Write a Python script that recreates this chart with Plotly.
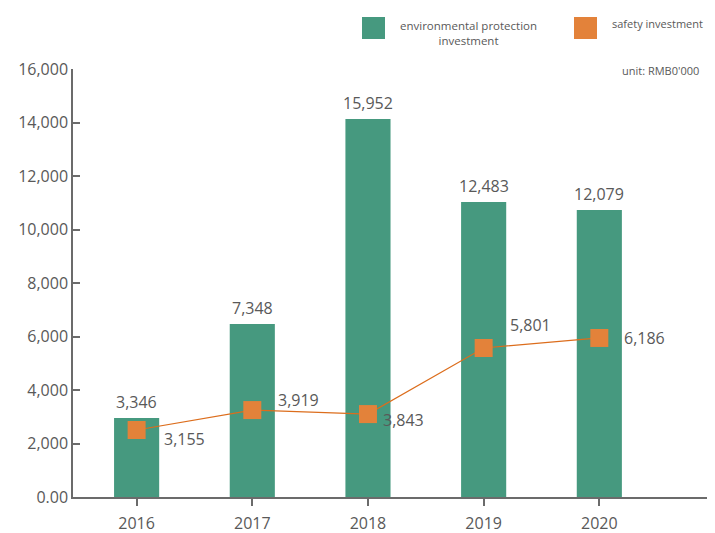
"""
Environmental protection vs safety investment, 2016-2020
"""

import plotly.graph_objects as go

# data
years = ["2016", "2017", "2018", "2019", "2020"]
env_heights = [2950, 6465, 14130, 11030, 10730]  # drawn bar heights
env_labels = ["3,346", "7,348", "15,952", "12,483", "12,079"]
safety_heights = [2505, 3250, 3100, 5570, 5945]  # drawn marker heights
safety_labels = ["3,155", "3,919", "3,843", "5,801", "6,186"]
ytick_vals = [0, 2000, 4000, 6000, 8000, 10000, 12000, 14000, 16000]
ytick_text = ["0.00", "2,000", "4,000", "6,000", "8,000", "10,000", "12,000", "14,000", "16,000"]

# label offsets (px) for the safety series
safety_shift = [(48, -9), (46, 10), (36, -6), (47, 23), (45, 0)]

GREEN = "#46997f"
ORANGE = "#e3823a"
LINE = "#dc6d1c"
TEXT = "#595959"
FONT = "Open Sans"

# the page body has an 8px margin: size the figure to what is left of the window
OFF = 8
W, H = 715 - OFF, 533 - OFF
L, T, BOT, R = 73, 69, 497, 715  # plot area in screen pixels
PW, PH = R - L, BOT - T


def px_x(x):
    return (x - L) / PW


def px_y(y):
    return 1 + (T - y) / PH


fig = go.Figure()

fig.add_trace(
    go.Bar(
        x=years,
        y=env_heights,
        width=0.39,
        marker=dict(color=GREEN, line=dict(width=0)),
        name="environmental protection investment",
        showlegend=False,
    )
)

fig.add_trace(
    go.Scatter(
        x=years,
        y=safety_heights,
        mode="lines+markers",
        line=dict(color=LINE, width=1.2),
        marker=dict(symbol="square", size=18, color=ORANGE),
        name="safety investment",
        showlegend=False,
    )
)

# numeric-looking categories -> use the index for annotation positions
annotations = []
for i, (h, lab) in enumerate(zip(env_heights, env_labels)):
    annotations.append(dict(
        x=i, y=h, text=lab, showarrow=False, yanchor="bottom", yshift=3,
        font=dict(family=FONT, size=16, color=TEXT),
    ))
for i, (h, lab, (dx, dy)) in enumerate(zip(safety_heights, safety_labels, safety_shift)):
    annotations.append(dict(
        x=i, y=h, text=lab, showarrow=False, xshift=dx, yshift=dy,
        xanchor="center", yanchor="middle",
        font=dict(family=FONT, size=16, color=TEXT),
    ))

# hand-made legend at the top
legend_font = dict(family=FONT, size=11.5, color=TEXT)
small_font = dict(family=FONT, size=11, color=TEXT)
annotations += [
    dict(xref="paper", yref="paper", x=px_x(468), y=px_y(33),
         xanchor="center", yanchor="middle",
         text="environmental protection<br>investment", showarrow=False,
         font=legend_font, align="center"),
    dict(xref="paper", yref="paper", x=px_x(657), y=px_y(24),
         xanchor="center", yanchor="middle",
         text="safety investment", showarrow=False, font=small_font),
    dict(xref="paper", yref="paper", x=px_x(660), y=px_y(70),
         xanchor="center", yanchor="middle",
         text="unit: RMB0'000", showarrow=False, font=small_font),
]

shapes = [
    dict(type="rect", xref="paper", yref="paper",
         x0=px_x(362), x1=px_x(385), y0=px_y(39), y1=px_y(17),
         fillcolor=GREEN, line=dict(width=0)),
    dict(type="rect", xref="paper", yref="paper",
         x0=px_x(574), x1=px_x(597), y0=px_y(39), y1=px_y(17),
         fillcolor=ORANGE, line=dict(width=0)),
]

fig.update_layout(
    width=W,
    height=H,
    margin=dict(l=L - OFF, r=0, t=T - OFF, b=H - (BOT - OFF)),
    plot_bgcolor="white",
    paper_bgcolor="white",
    font=dict(family=FONT, size=16, color=TEXT),
    showlegend=False,
    annotations=annotations,
    shapes=shapes,
    xaxis=dict(
        type="category",
        range=[-0.55, 5.0],
        automargin=False,
        showline=True, linecolor="#6b6b6b", linewidth=1.5,
        ticks="outside", ticklen=7, tickcolor="#6b6b6b", tickwidth=1.5,
        showgrid=False, zeroline=False,
        tickfont=dict(family=FONT, size=16, color=TEXT),
        ticklabelstandoff=4,
    ),
    yaxis=dict(
        range=[0, 16000],
        automargin=False,
        tickvals=ytick_vals, ticktext=ytick_text,
        showline=True, linecolor="#6b6b6b", linewidth=1.5,
        ticks="inside", ticklen=7, tickcolor="#6b6b6b", tickwidth=1.5,
        showgrid=False, zeroline=False,
        tickfont=dict(family=FONT, size=16, color=TEXT),
    ),
)

fig.write_html("out.html")
